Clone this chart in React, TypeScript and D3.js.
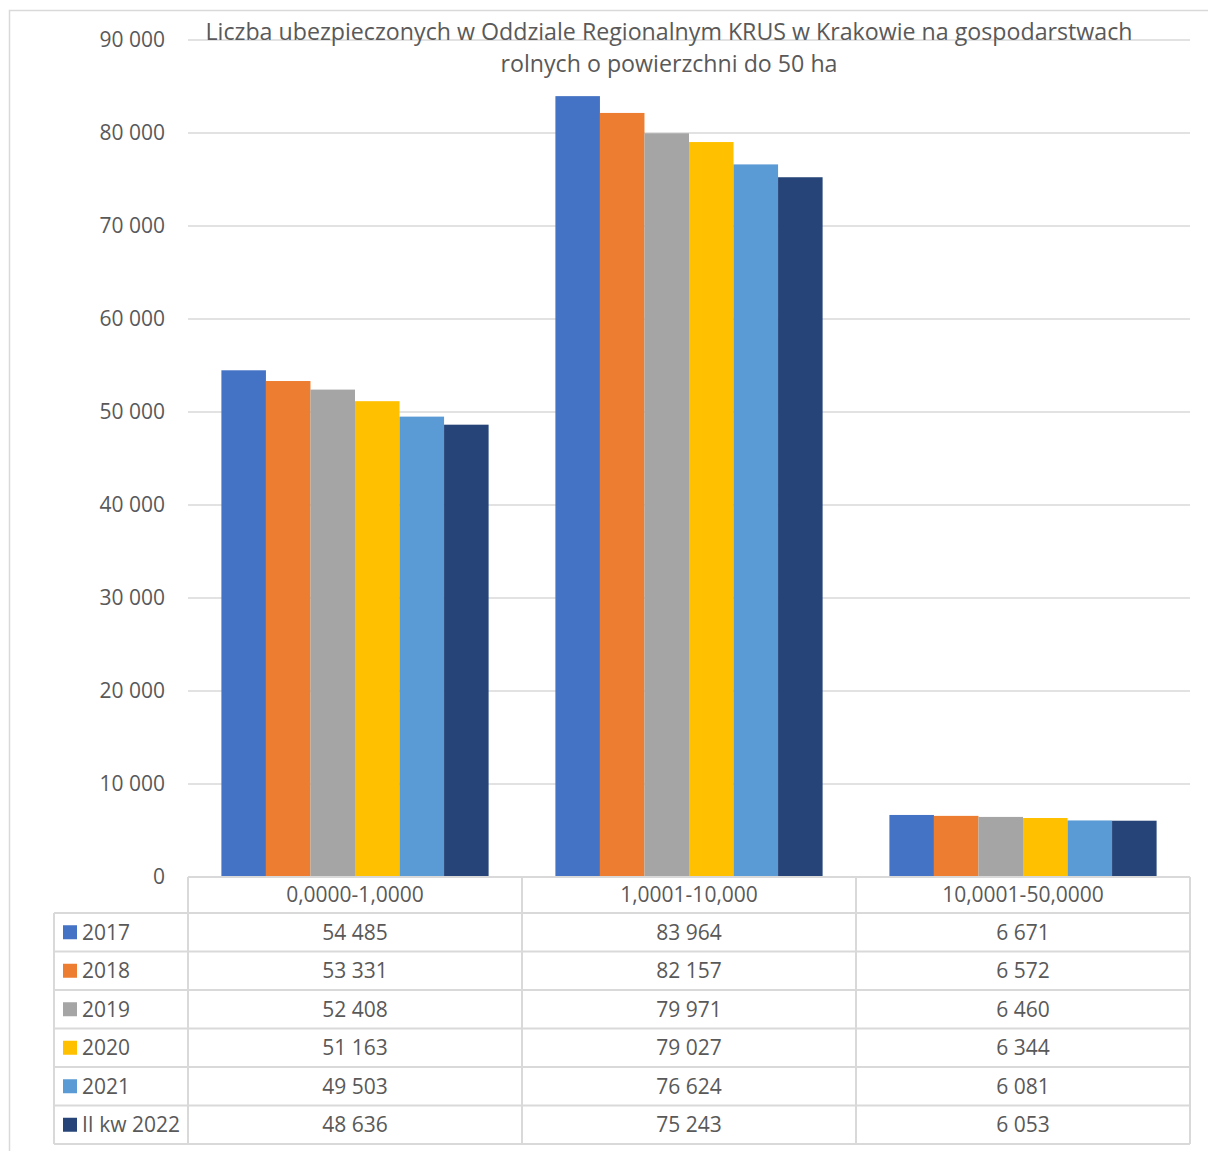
import React from "react";
import * as d3 from "d3";

const categories = ["0,0000-1,0000", "1,0001-10,000", "10,0001-50,0000"];
const seriesNames = ["2017", "2018", "2019", "2020", "2021", "II kw 2022"];
const values2017 = [54485, 83964, 6671];
const values2018 = [53331, 82157, 6572];
const values2019 = [52408, 79971, 6460];
const values2020 = [51163, 79027, 6344];
const values2021 = [49503, 76624, 6081];
const values2022 = [48636, 75243, 6053];
const seriesValues = [values2017, values2018, values2019, values2020, values2021, values2022];
const colors = ["#4472C4", "#ED7D31", "#A5A5A5", "#FFC000", "#5B9BD5", "#264478"];
const yTicks = [0, 10000, 20000, 30000, 40000, 50000, 60000, 70000, 80000, 90000];
const titleLines = [
  "Liczba ubezpieczonych w Oddziale Regionalnym KRUS w Krakowie na gospodarstwach",
  "rolnych o powierzchni do 50 ha",
];

const W = 1208;
const H = 1151;
const FONT = "'Open Sans', sans-serif";
const TEXT = "#595959";
const GRID = "#D9D9D9";

const plotLeft = 188;
const plotRight = 1190;
const plotTop = 40;
const plotBottom = 877;
const tableLeft = 54;
const headerBottom = 913;
const rowH = 38.5;

const locale = d3.formatLocale({ decimal: ",", thousands: " ", grouping: [3], currency: ["", " zł"] });
const fmt = locale.format(",d");

export default function App() {
  const y = d3.scaleLinear().domain([0, 90000]).range([plotBottom, plotTop]);
  const x0 = d3.scaleBand<string>().domain(categories).range([plotLeft, plotRight]).padding(0);
  const x1 = d3
    .scaleBand<string>()
    .domain(seriesNames)
    .range([0, x0.bandwidth()])
    .paddingInner(0)
    .paddingOuter(0.75);
  const tableBottom = headerBottom + rowH * seriesNames.length;

  return (
    <svg
      width={W}
      height={H}
      style={{ position: "absolute", left: 0, top: 0, display: "block", background: "#fff" }}
      fontFamily={FONT}
    >
      <rect x={9.5} y={10.5} width={W} height={H} fill="none" stroke={GRID} strokeWidth={1.5} />
      {yTicks.map((t) => (
        <g key={t}>
          {t > 0 && (
            <line x1={plotLeft} x2={plotRight} y1={y(t)} y2={y(t)} stroke={GRID} strokeWidth={1.5} />
          )}
          <text x={165} y={y(t)} dy="0.35em" textAnchor="end" fontSize={21} fill={TEXT}>
            {fmt(t)}
          </text>
        </g>
      ))}
      {titleLines.map((l, i) => (
        <text key={i} x={669} y={40 + i * 32} textAnchor="middle" fontSize={23.2} fill={TEXT}>
          {l}
        </text>
      ))}
      {categories.map((c, ci) => (
        <g key={c} transform={`translate(${x0(c)},0)`}>
          {seriesNames.map((s, si) => {
            const v = seriesValues[si][ci];
            return (
              <rect
                key={s}
                x={x1(s)}
                y={y(v)}
                width={x1.bandwidth()}
                height={y(0) - y(v)}
                fill={colors[si]}
              />
            );
          })}
        </g>
      ))}
      {/* table */}
      <g stroke={GRID} strokeWidth={2} fill="none">
        <line x1={plotLeft} x2={plotRight} y1={plotBottom} y2={plotBottom} />
        {seriesNames.map((s, i) => (
          <line key={s} x1={tableLeft} x2={plotRight} y1={headerBottom + i * rowH} y2={headerBottom + i * rowH} />
        ))}
        <line x1={tableLeft} x2={plotRight} y1={tableBottom} y2={tableBottom} />
        <line x1={tableLeft} x2={tableLeft} y1={headerBottom} y2={tableBottom} />
        {categories.map((c) => (
          <line key={c} x1={x0(c)} x2={x0(c)} y1={plotBottom} y2={tableBottom} />
        ))}
        <line x1={plotRight} x2={plotRight} y1={plotBottom} y2={tableBottom} />
      </g>
      {categories.map((c) => (
        <text
          key={c}
          x={(x0(c) as number) + x0.bandwidth() / 2}
          y={(plotBottom + headerBottom) / 2}
          dy="0.35em"
          textAnchor="middle"
          fontSize={21}
          fill={TEXT}
        >
          {c}
        </text>
      ))}
      {seriesNames.map((s, si) => {
        const cy = headerBottom + si * rowH + rowH / 2;
        return (
          <g key={s}>
            <rect x={63} y={cy - 7} width={14} height={14} fill={colors[si]} />
            <text x={82} y={cy} dy="0.35em" fontSize={21} fill={TEXT}>
              {s}
            </text>
            {categories.map((c, ci) => (
              <text
                key={c}
                x={(x0(c) as number) + x0.bandwidth() / 2}
                y={cy}
                dy="0.35em"
                textAnchor="middle"
                fontSize={21}
                fill={TEXT}
              >
                {fmt(seriesValues[si][ci])}
              </text>
            ))}
          </g>
        );
      })}
    </svg>
  );
}
